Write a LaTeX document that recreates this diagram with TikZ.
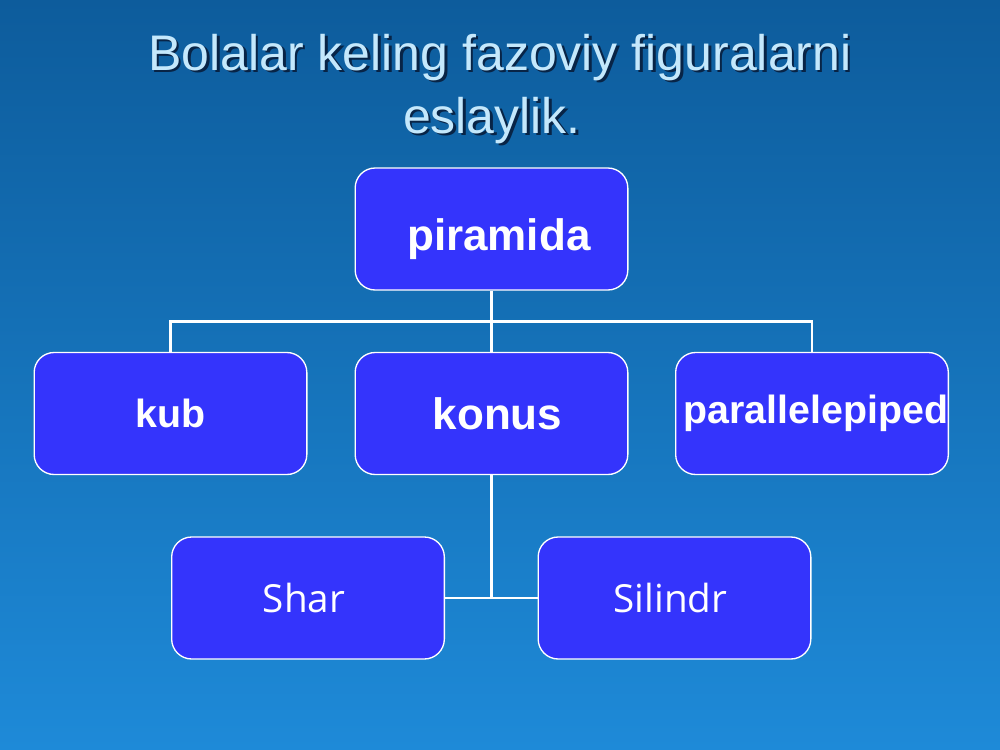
\documentclass[tikz,border=0pt]{standalone}
\usepackage{fontspec}
\setmainfont{Liberation Sans}
\newfontfamily\osans{Open Sans}
\usetikzlibrary{positioning, calc}
\definecolor{bgtop}{RGB}{13,92,156}
\definecolor{bgbot}{RGB}{30,138,216}
\definecolor{boxfill}{RGB}{52,52,252}
\definecolor{titlecol}{RGB}{196,232,252}
\definecolor{titleshadow}{RGB}{8,36,70}

\begin{document}
\begin{tikzpicture}[x=0.75pt,y=-0.75pt,
    figbox/.style={draw=white,line width=1pt,fill=boxfill,rounded corners=15pt,
      minimum width=204.5pt,minimum height=91.5pt,inner sep=0pt,text=white},
    bigtxt/.style={font=\bfseries\fontsize{33}{36}\selectfont},
    midtxt/.style={font=\bfseries\fontsize{29.5}{32}\selectfont},
    thintxt/.style={font=\osans\fontsize{29}{32}\selectfont},
    titletxt/.style={font=\fontsize{37.5}{47}\selectfont,anchor=base},
    link/.style={draw=white,line width=2.2pt}]
        % background
        \shade[top color=bgtop,bottom color=bgbot] (0,0) rectangle (1000,750);
        \useasboundingbox (0,0) rectangle (1000,750);
        % title
        \node[titletxt,text=titleshadow] at (502.5,72.5) {Bolalar keling fazoviy figuralarni};
        \node[titletxt,text=titlecol] (title_a) at (500,70) {Bolalar keling fazoviy figuralarni};
        \node[titletxt,text=titleshadow] at (494.5,135.5) {eslaylik.};
        \node[titletxt,text=titlecol] (title_b) at (492,133) {eslaylik.};
        % boxes
        \node[figbox,bigtxt,text height=33pt,text depth=1.5pt] (fig_pir) at (491.5,229) {\hspace*{11pt}piramida};
        \node[figbox,midtxt] (fig_kub) at (170.5,413.5) {\raisebox{-1.5pt}{kub}};
        \node[figbox,bigtxt] (fig_kon) at (491.5,413.5) {\hspace*{9pt}\raisebox{-1.5pt}{konus}};
        \node[figbox,midtxt] (fig_par) at (812,413.5) {\hspace*{6pt}\raisebox{-1.5pt}{parallelepiped}};
        \node[figbox,thintxt] (fig_shar) at (308,598) {Shar\hspace*{6pt}};
        \node[figbox,thintxt] (fig_sil) at (674.5,598) {Silindr\hspace*{6pt}};
        % connectors
        \coordinate (bus_top) at ($(fig_pir.south)+(0,31)$);
        \coordinate (bus_low) at ($(fig_kon.south)+(0,124)$);
        \draw[link] (fig_pir.south) -- (bus_top);
        \draw[link] (fig_kub.north) |- (bus_top) -| (fig_par.north);
        \draw[link] (bus_top) -- (fig_kon.north);
        \draw[link] (fig_kon.south) -- (bus_low);
        \draw[link] (fig_shar.east) -- (fig_sil.west);
\end{tikzpicture}
\end{document}
